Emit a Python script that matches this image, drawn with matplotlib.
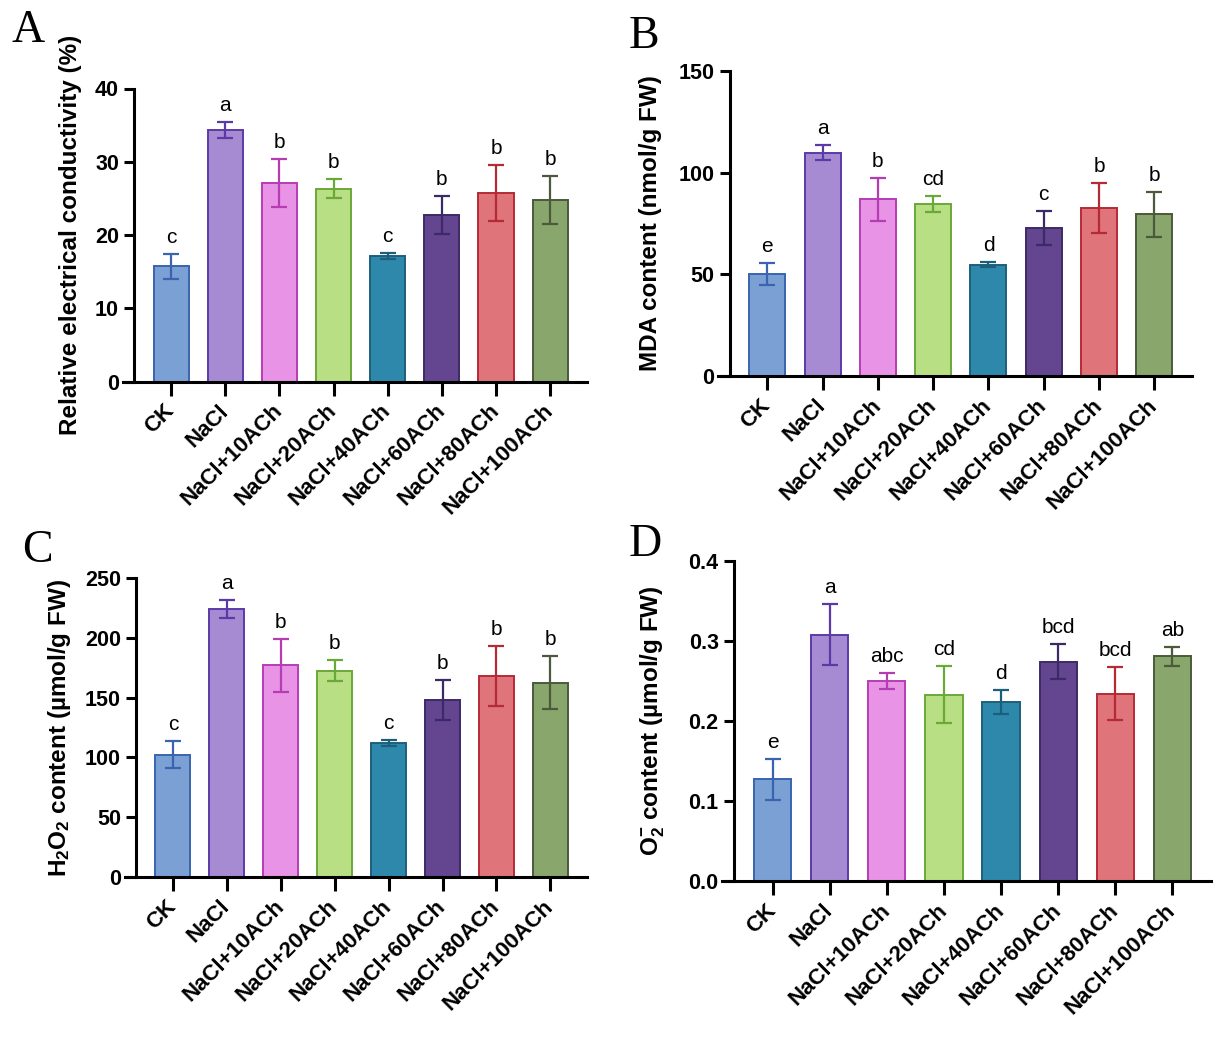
import matplotlib.pyplot as plt

plt.rcParams["font.family"] = ["Liberation Sans", "DejaVu Sans"]
plt.rcParams["mathtext.fontset"] = "custom"
plt.rcParams["mathtext.rm"] = "Liberation Sans:bold"
plt.rcParams["mathtext.it"] = "Liberation Sans:bold"
plt.rcParams["mathtext.bf"] = "Liberation Sans:bold"

groups = ["CK", "NaCl", "NaCl+10ACh", "NaCl+20ACh", "NaCl+40ACh",
          "NaCl+60ACh", "NaCl+80ACh", "NaCl+100ACh"]

conductivity = [15.7, 34.3, 27.1, 26.3, 17.1, 22.7, 25.7, 24.8]
conductivity_err = [1.7, 1.1, 3.3, 1.3, 0.4, 2.6, 3.8, 3.3]
conductivity_sig = ["c", "a", "b", "b", "c", "b", "b", "b"]
conductivity_ticks = [0, 10, 20, 30, 40]
conductivity_ticklabels = ["0", "10", "20", "30", "40"]

mda = [50.2, 109.8, 86.9, 84.6, 54.8, 72.6, 82.6, 79.5]
mda_err = [5.4, 3.8, 10.5, 4.1, 1.3, 8.4, 12.3, 11.0]
mda_sig = ["e", "a", "b", "cd", "d", "c", "b", "b"]
mda_ticks = [0, 50, 100, 150]
mda_ticklabels = ["0", "50", "100", "150"]

h2o2 = [102.3, 224.1, 176.9, 172.5, 111.7, 148.0, 168.3, 162.5]
h2o2_err = [11.4, 7.5, 21.8, 8.6, 2.5, 17.0, 25.0, 22.0]
h2o2_sig = ["c", "a", "b", "b", "c", "b", "b", "b"]
h2o2_ticks = [0, 50, 100, 150, 200, 250]
h2o2_ticklabels = ["0", "50", "100", "150", "200", "250"]

superoxide = [0.127, 0.308, 0.250, 0.233, 0.2235, 0.274, 0.234, 0.281]
superoxide_err = [0.026, 0.038, 0.010, 0.036, 0.015, 0.022, 0.033, 0.012]
superoxide_sig = ["e", "a", "abc", "cd", "d", "bcd", "bcd", "ab"]
superoxide_ticks = [0.0, 0.1, 0.2, 0.3, 0.4]
superoxide_ticklabels = ["0.0", "0.1", "0.2", "0.3", "0.4"]

fill_colors = ["#7ba0d4", "#a68bd3", "#e893e6", "#b9df84",
               "#2e88ac", "#634590", "#df747a", "#89a66c"]
edge_colors = ["#3a64b0", "#5b3aa8", "#b63cb3", "#6aa838",
               "#1c5f7a", "#3c2a66", "#b52a35", "#4a5a3a"]


def draw_panel(ax, values, errors, letters, yticks, yticklabels, ylabel, label_x):
    # spine position first: moving a spine resets the tick objects
    ax.spines["top"].set_visible(False)
    ax.spines["right"].set_visible(False)
    ax.spines["left"].set_position(("data", -0.68))
    ax.spines["left"].set_linewidth(2.2)
    ax.spines["bottom"].set_linewidth(2.2)

    x = list(range(len(groups)))
    ax.bar(x, values, width=0.65, color=fill_colors, edgecolor=edge_colors,
           linewidth=1.4, zorder=2)
    for xi, v, e, c in zip(x, values, errors, edge_colors):
        ax.errorbar(xi, v, yerr=e, color=c, capsize=6, capthick=1.6,
                    elinewidth=1.6, zorder=3, clip_on=False)
    for xi, v, e, s in zip(x, values, errors, letters):
        ax.annotate(s, (xi, v + e), xytext=(0, 5), textcoords="offset points",
                    ha="center", va="bottom", fontsize=15)

    ax.set_xlim(-0.89, 7.68)
    ax.set_ylim(yticks[0], yticks[-1])
    ax.set_yticks(yticks)
    ax.set_yticklabels(yticklabels, fontsize=15.5, fontweight="bold")
    ax.set_xticks(x)
    ax.set_xticklabels(groups, rotation=45, ha="right", va="center",
                       rotation_mode="anchor", fontsize=16, fontweight="bold")
    ax.tick_params(axis="y", direction="out", length=7.5, width=2.2, pad=3.5)
    ax.tick_params(axis="x", direction="out", length=10, width=2.2, pad=9)

    ax.set_ylabel(ylabel, fontsize=17.5, fontweight="bold")
    ax.yaxis.set_label_coords(label_x, 0.5)


fig = plt.figure(figsize=(12.21, 10.43), dpi=100)
W, H = 1221, 1043


def add_axes(left, right, top, bottom):
    return fig.add_axes([left / W, 1 - bottom / H, (right - left) / W, (bottom - top) / H])


ax_a = add_axes(123, 587, 88.5, 381.5)
ax_b = add_axes(718, 1192, 71, 376)
ax_c = add_axes(125, 587, 578, 877)
ax_d = add_axes(722, 1211, 561, 881)

draw_panel(ax_a, conductivity, conductivity_err, conductivity_sig,
           conductivity_ticks, conductivity_ticklabels,
           "Relative electrical conductivity (%)", -0.089)
draw_panel(ax_b, mda, mda_err, mda_sig, mda_ticks, mda_ticklabels,
           "MDA content (nmol/g FW)", -0.118)
draw_panel(ax_c, h2o2, h2o2_err, h2o2_sig, h2o2_ticks, h2o2_ticklabels,
           "H$_2$O$_2$ content (µmol/g FW)", -0.112)
draw_panel(ax_d, superoxide, superoxide_err, superoxide_sig,
           superoxide_ticks, superoxide_ticklabels,
           "O$_2^{-}$ content (µmol/g FW)", -0.112)

for s, (px, py) in zip("ABCD", [(11, 10), (629, 15), (22, 530), (629, 524)]):
    fig.text(px / W, 1 - py / H, s, fontsize=33, family="Liberation Serif",
             ha="left", va="top")

fig.savefig("out.png", dpi=100)
